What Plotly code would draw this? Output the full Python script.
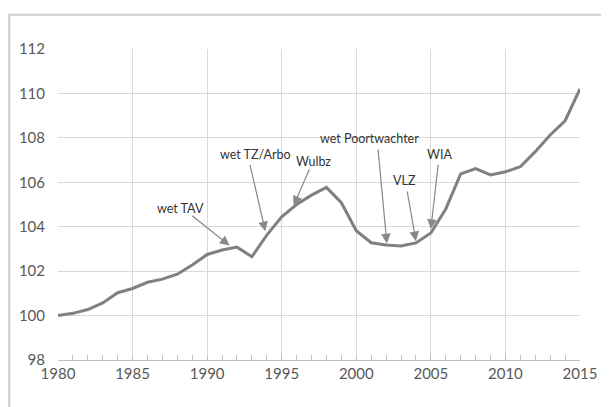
import plotly.graph_objects as go

years = list(range(1980, 2016))
values = [100.0, 100.1, 100.27, 100.57, 101.03, 101.22, 101.5, 101.64, 101.86, 102.28,
          102.75, 102.95, 103.08, 102.65, 103.62, 104.45, 105.0, 105.42, 105.77, 105.08,
          103.82, 103.28, 103.18, 103.13, 103.27, 103.72, 104.8, 106.38, 106.62, 106.33,
          106.47, 106.7, 107.38, 108.13, 108.77, 110.2]

ann_labels = ["wet TAV", "wet TZ/Arbo", "Wulbz", "wet Poortwachter", "VLZ", "WIA"]
ann_text_x = [1988.2, 1993.25, 1997.15, 2000.9, 2003.2, 2005.6]
ann_text_y = [104.8, 107.25, 106.95, 107.95, 106.1, 107.25]
arrow_tip_x = [1991.5, 1993.9, 1995.8, 2002.05, 2004.0, 2005.0]
arrow_tip_y = [103.15, 103.8, 104.95, 103.25, 103.35, 103.9]
arrow_tail_x = [1988.9, 1992.85, 1996.9, 2001.45, 2003.4, 2005.5]
arrow_tail_y = [104.55, 106.85, 106.65, 107.55, 105.65, 106.85]

fig = go.Figure()
fig.add_trace(go.Scatter(x=years, y=values, mode="lines",
                         line=dict(color="#808080", width=3), showlegend=False))

annotations = []
for lab, tx, ty in zip(ann_labels, ann_text_x, ann_text_y):
    annotations.append(dict(x=tx, y=ty, xref="x", yref="y", text=lab, showarrow=False,
                            font=dict(family="Lato", size=12.5, color="#333333")))
for hx, hy, sx, sy in zip(arrow_tip_x, arrow_tip_y, arrow_tail_x, arrow_tail_y):
    annotations.append(dict(x=hx, y=hy, xref="x", yref="y", ax=sx, ay=sy,
                            axref="x", ayref="y", text="", showarrow=True,
                            arrowhead=2, arrowsize=1.6, arrowwidth=1.2,
                            arrowcolor="#888888", standoff=0))

fig.update_layout(
    width=601, height=399,
    margin=dict(l=50, r=29, t=41, b=47),
    paper_bgcolor="white", plot_bgcolor="white",
    annotations=annotations,
    shapes=[dict(type="rect", xref="paper", yref="paper",
                 x0=-0.0935, x1=1.048, y0=-0.3, y1=1.11,
                 line=dict(color="#cccccc", width=2), layer="below")],
    xaxis=dict(range=[1980, 2015], tick0=1980, dtick=5, showgrid=True,
               gridcolor="#d9d9d9", gridwidth=1, zeroline=False,
               showline=True, linecolor="#bfbfbf", linewidth=1,
               ticks="inside", ticklen=5, tickcolor="#bfbfbf",
               minor=dict(dtick=1, ticks="inside", ticklen=5, tickcolor="#bfbfbf", showgrid=False),
               tickfont=dict(family="Lato", size=15, color="#595959")),
    yaxis=dict(range=[98, 112], dtick=2, showgrid=True, gridcolor="#d9d9d9",
               gridwidth=1, zeroline=False, showline=False, ticks="",
               ticklabelstandoff=12,
               tickfont=dict(family="Lato", size=15, color="#595959")),
)

fig.write_html("out.html")
